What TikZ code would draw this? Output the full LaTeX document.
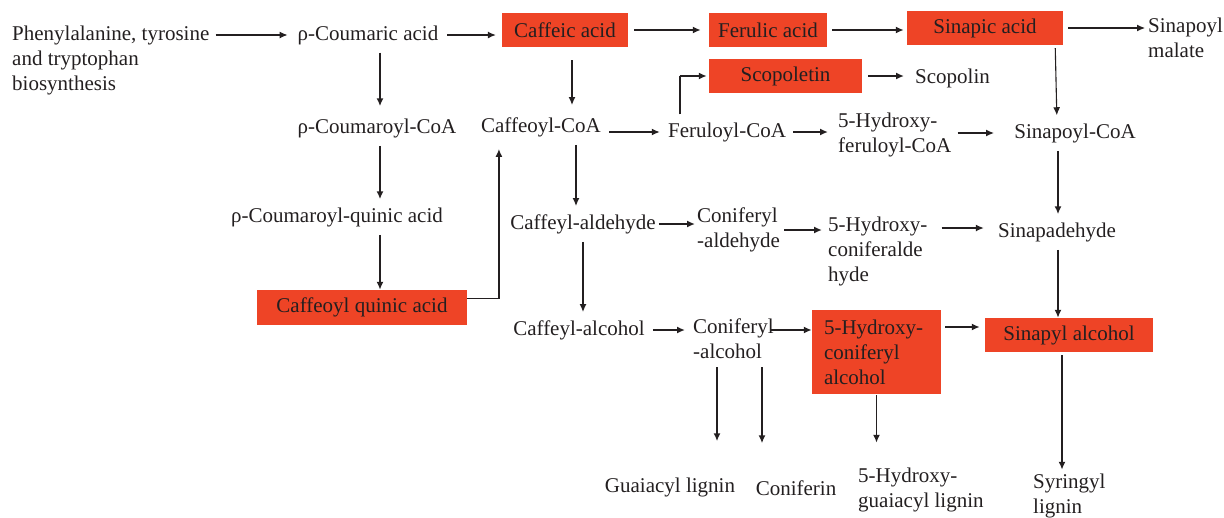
\documentclass[tikz,border=0pt]{standalone}
\usepackage{fontspec}
\setmainfont{Liberation Serif}
\usetikzlibrary{arrows.meta}
\definecolor{hlred}{RGB}{238,68,38}
\definecolor{ink}{RGB}{35,31,32}
\tikzset{
	lbl/.style={inner sep=0pt, align=left, text=ink, font=\fontsize{21}{25}\selectfont},
	hl/.style={lbl, fill=hlred, minimum height=34pt},
	arr/.style={draw=ink, -{Latex[length=8pt,width=7pt]}, line width=1.8pt, shorten <=6pt, shorten >=6pt},
	thinarr/.style={arr, line width=1.1pt},
	varr/.style={arr, shorten <=8pt, shorten >=8pt}
}
\begin{document}
\begin{tikzpicture}[x=1pt,y=-1pt]
\useasboundingbox (0,0) rectangle (1224,517);

		\node[lbl, anchor=west] (phe) at (12,60) {Phenylalanine, tyrosine\\and tryptophan\\biosynthesis};
		\node[lbl] (coum) at (368,35) {ρ-Coumaric acid};
		\node[hl, minimum width=126pt] (caff) at (565,30) {Caffeic acid};
		\node[hl, minimum width=118pt] (feru) at (768,30) {Ferulic acid};
		\node[hl, minimum width=156pt] (sinap) at (985,28) {Sinapic acid};
		\node[lbl, anchor=west] (malate) at (1148,38) {Sinapoyl\\malate};
		\node[hl, minimum width=153pt] (scop) at (785.5,76) {Scopoletin};
		\node[lbl, anchor=west] (scopolin) at (915,78) {Scopolin};

		\node[lbl] (pcoa) at (377,128) {ρ-Coumaroyl-CoA};
		\node[lbl] (caffcoa) at (541,127) {Caffeoyl-CoA};
		\node[lbl] (ferucoa) at (727,132) {Feruloyl-CoA};
		\node[lbl, anchor=west] (hfcoa) at (838,135) {5-Hydroxy-\\feruloyl-CoA};
		\node[lbl] (sincoa) at (1075,133) {Sinapoyl-CoA};

		\node[lbl] (pcqa) at (337,217) {ρ-Coumaroyl-quinic acid};
		\node[lbl] (caffald) at (583,224) {Caffeyl-aldehyde};
		\node[lbl, anchor=west] (conald) at (697,230) {Coniferyl\\-aldehyde};
		\node[lbl, anchor=west] (hcald) at (828,251) {5-Hydroxy-\\coniferalde\\hyde};
		\node[lbl] (sinald) at (1057,232) {Sinapadehyde};

		\node[hl, minimum width=210pt, minimum height=35pt] (cqa) at (362,307.5) {Caffeoyl quinic acid};
		\node[lbl] (caffalc) at (579,330) {Caffeyl-alcohol};
		\node[lbl, anchor=west] (conalc) at (693,339) {Coniferyl\\-alcohol};
		\node[hl, minimum width=129pt, minimum height=84pt, text width=105pt] (hcalc) at (876.5,352) {5-Hydroxy-\\coniferyl\\alcohol};
		\node[hl, minimum width=168pt] (sinalc) at (1069,335) {Sinapyl alcohol};

		\node[lbl] (guai) at (670,487) {Guaiacyl lignin};
		\node[lbl] (conif) at (796,488) {Coniferin};
		\node[lbl, anchor=west] (hgl) at (858,490) {5-Hydroxy-\\guaiacyl lignin};
		\node[lbl, anchor=west] (syr) at (1033,496) {Syringyl\\lignin};

		\draw[thinarr, shorten >=10pt] (phe.east |- coum) -- (coum);
		\draw[thinarr, shorten <=9pt] (coum.east) -- (coum.east -| caff.west);
		\draw[arr, shorten >=8pt] (caff) -- (feru);
		\draw[arr, shorten <=5pt, shorten >=3pt] (feru.east) -- (feru.east -| sinap.west);
		\draw[thinarr, shorten <=5pt, shorten >=3pt] (sinap.east) -- (sinap.east -| malate.west);
		\draw[arr, shorten >=11pt] (scop.east) -- (scop.east -| scopolin.west);
		\draw[thinarr, -, shorten <=8pt, shorten >=-0.5pt] ([xshift=-47pt]ferucoa.north) -- ([xshift=-47pt]ferucoa.north |- scop.west);
		\draw[arr, shorten <=-0.5pt, shorten >=2pt] ([xshift=-47pt]ferucoa.north |- scop.west) -- (scop.west);

		\draw[varr, shorten >=12pt] ([xshift=12pt]coum.south) -- ([xshift=12pt]coum.south |- pcoa.north);
		\draw[varr] ([xshift=3pt]pcoa.south) -- ([xshift=3pt]pcoa.south |- pcqa.north);
		\draw[varr, shorten >=0pt] ([xshift=43pt]pcqa.south) -- ([xshift=43pt]pcqa.south |- cqa.north);
		\draw[arr, shorten <=0pt, shorten >=12pt] ([yshift=9pt]cqa.east) -| ([xshift=18pt]caffcoa.south west);
		\draw[varr, shorten <=13pt, shorten >=12pt] ([xshift=7pt]caff.south) -- ([xshift=7pt]caff.south |- caffcoa.north);

		\draw[arr, shorten <=8pt, shorten >=8pt] (ferucoa.west -| caffcoa.east) -- (ferucoa.west);
		\draw[arr, shorten <=7pt, shorten >=10pt] (ferucoa.east) -- (ferucoa.east -| hfcoa.west);
		\draw[arr, shorten <=6pt, shorten >=20pt] (sincoa.west -| hfcoa.east) -- (sincoa.west);
		\draw[thinarr, shorten <=3pt, shorten >=8pt] ([xshift=-8pt]sinap.south east) -- ([xshift=-18pt]sincoa.north);
		\draw[varr] ([xshift=-17pt]sincoa.south) -- ([xshift=-17pt]sincoa.south |- sinald.north);
		\draw[varr, shorten >=0pt] ([xshift=1pt]sinald.south) -- ([xshift=1pt]sinald.south |- sinalc.north);
		\draw[varr] ([xshift=-7pt]caffcoa.south -| caffald) -- ([xshift=-7pt]caffald.north);

		\draw[arr, shorten <=3pt, shorten >=2pt] (caffald.east) -- (caffald.east -| conald.west);
		\draw[arr, shorten <=4pt, shorten >=6pt] (conald.east) -- (conald.east -| hcald.west);
		\draw[arr, shorten <=14pt, shorten >=14pt] ([yshift=4pt]sinald.west -| hcald.east) -- ([yshift=4pt]sinald.west);
		\draw[varr] (caffald.south) -- (caffald.south |- caffalc.north);

		\draw[arr, shorten <=8pt, shorten >=8pt] (caffalc.east) -- (caffalc.east -| conalc.west);
		\draw[arr, shorten <=-3pt, shorten >=0pt] (caffalc.east -| conalc.east) -- (caffalc.east -| hcalc.west);
		\draw[arr, shorten <=4pt, shorten >=5pt] ([yshift=8pt]sinalc.west -| hcalc.east) -- ([yshift=8pt]sinalc.west);

		\draw[varr, shorten >=36pt] ([xshift=24pt]conalc.south west) -- ([xshift=24pt]conalc.south west |- guai.north);
		\draw[varr, shorten >=37pt] ([xshift=69pt]conalc.south west) -- ([xshift=69pt]conalc.south west |- conif.north);
		\draw[varr, shorten <=1pt, shorten >=25pt] (hcalc.south) -- (hcalc.south |- hgl.north);
		\draw[varr, shorten <=3pt, shorten >=4pt] ([xshift=-7pt]sinalc.south) -- ([xshift=-7pt]sinalc.south |- syr.north);

\end{tikzpicture}
\end{document}
